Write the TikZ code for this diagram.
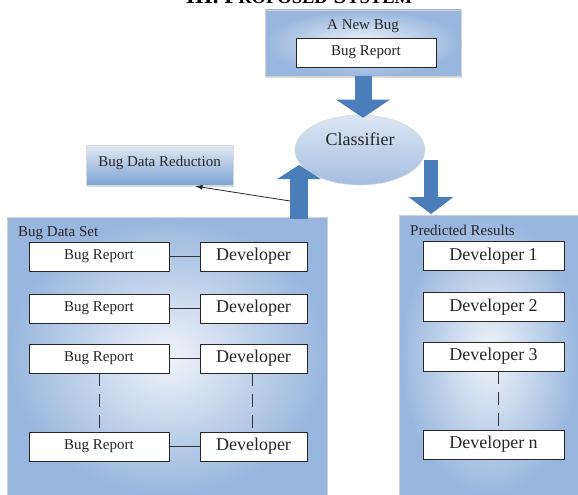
\documentclass[tikz,border=0pt]{standalone}
\usepackage{fontspec}
\setmainfont{Liberation Serif}
\usetikzlibrary{arrows.meta,shapes.geometric,calc,shadows}
\definecolor{arrblue}{HTML}{4A7EBB}
\definecolor{panelout}{HTML}{98B6DE}
\definecolor{panelin}{HTML}{F0F4FA}
\definecolor{elltop}{HTML}{DDE7F4}
\definecolor{ellbot}{HTML}{A3BDE0}
\definecolor{redtop}{HTML}{E2EAF5}
\definecolor{redbot}{HTML}{7FA2D3}
\begin{document}
\begin{tikzpicture}[x=1pt,y=-1pt,
  panel/.style={draw=black!18, line width=0.8pt, rectangle, inner sep=0pt,
    shading=radial, inner color=panelin, outer color=panelout},
  lbl/.style={inner sep=0pt, font=\fontsize{15}{17}\selectfont, text=black!85},
  bigl/.style={inner sep=0pt, font=\fontsize{18}{20}\selectfont, text=black!85},
  box/.style={draw=black!85, line width=0.9pt, fill=white, rectangle,
    minimum height=29pt, inner sep=0pt, font=\fontsize{15}{17}\selectfont, text=black!85},
  devbox/.style={box, font=\fontsize{18}{20}\selectfont},
  conn/.style={draw=black!80, line width=0.9pt},
  dconn/.style={conn, dash pattern=on 13pt off 8pt},
  blockarr/.style={draw=arrblue},
  thinarr/.style={draw=black!85, line width=0.8pt, -{Latex[length=7pt,width=5pt]}}
]
\useasboundingbox (0,0) rectangle (578,495);

% title (cut off at the top edge, as in the reference)
\node[anchor=base, inner sep=0pt, font=\bfseries\fontsize{23}{25}\selectfont] (title) at (299,4)
  {III. P{\fontsize{18.5}{20}\selectfont ROPOSED} S{\fontsize{18.5}{20}\selectfont YSTEM}};

% panels
\node[panel, minimum width=320pt, minimum height=278pt, anchor=north west] (dataset) at (7,217) {};
\node[panel, minimum width=180pt, minimum height=280pt, anchor=north west] (predicted) at (399,215) {};
\node[lbl, anchor=base west] (dslbl) at (18,236) {Bug Data Set};
\node[lbl, anchor=base west] (prlbl) at (410,235) {Predicted Results};

% a new bug
\node[panel, minimum width=196pt, minimum height=66pt,
  drop shadow={opacity=0.25, shadow xshift=1pt, shadow yshift=-1.5pt}] (newbug) at (363,43) {};
\node[lbl, anchor=base] (nblbl) at (363,30) {A New Bug};
\node[box, minimum width=140pt] (nbreport) at (366,52.5) {Bug Report};

% classifier
\node[ellipse, minimum width=130pt, minimum height=70pt, draw=black!15, line width=0.6pt,
  top color=elltop, bottom color=ellbot] (classifier) at (360,150) {};
\node[bigl, anchor=base] (cllbl) at (360,145) {Classifier};

% bug data reduction
\node[rectangle, minimum width=147pt, minimum height=40pt, inner sep=0pt, draw=black!15,
  top color=redtop, bottom color=redbot,
  drop shadow={opacity=0.3, shadow xshift=1pt, shadow yshift=-2pt}] (reduction) at (159.5,165) {};
\node[lbl, anchor=base] (redlbl) at (159.5,166) {Bug Data Reduction};

% left rows
\foreach \i/\y in {1/256.5,2/308.5,3/358.5,4/446.5} {
  \node[box, minimum width=140pt] (br\i) at (99,\y) {Bug Report};
  \node[devbox, minimum width=107pt] (dv\i) at (253.5,\y) {Developer};
  \draw[conn] (br\i) -- (dv\i);
}
\draw[dconn] (br3) -- (br4);
\draw[dconn] ($(dv3.south)+(-1.5,0)$) -- ($(dv4.north)+(-1.5,0)$);

% right rows
\node[devbox, minimum width=141pt] (rd1) at (493.5,256) {Developer 1};
\node[devbox, minimum width=141pt] (rd2) at (493.5,307) {Developer 2};
\node[devbox, minimum width=141pt] (rd3) at (493.5,356.5) {Developer 3};
\node[devbox, minimum width=141pt] (rd4) at (493.5,444.5) {Developer n};
\draw[dconn] ($(rd3.south)+(5,0)$) -- ($(rd4.north)+(5,0)$);

% block arrows
\coordinate (t1) at ($(newbug.south |- classifier.north)+(0,3)$);
\draw[blockarr, line width=17pt, -{Triangle[length=18pt,width=53pt]}] (newbug.south) -- (t1);
\coordinate (upbase) at (299,219);
\coordinate (uptip) at (299,165);
\draw[blockarr, line width=18pt, -{Triangle[length=14pt,width=43pt]}] (upbase) -- (uptip);
\coordinate (dnstart) at (431,160);
\draw[blockarr, line width=14pt, -{Triangle[length=17pt,width=44pt]}] (dnstart) -- ($(dnstart |- predicted.north)+(0,-1)$);

% thin arrow to reduction
\coordinate (redstart) at (290,201);
\draw[thinarr] (redstart) -- ($(reduction.south)+(36,1)$);
\end{tikzpicture}
\end{document}
